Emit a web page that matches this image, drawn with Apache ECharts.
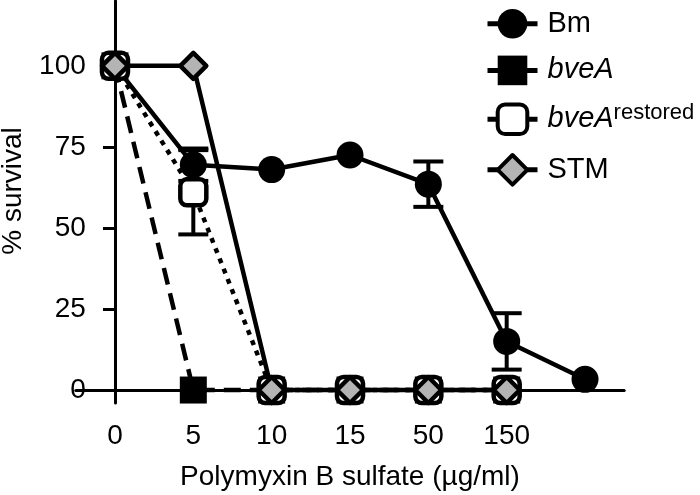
<!DOCTYPE html>
<html>
<head>
<meta charset="utf-8">
<script src="https://cdn.jsdelivr.net/npm/echarts@6/dist/echarts.min.js"></script>
<style>html,body{margin:0;padding:0;background:#fff}#c{width:700px;height:495px}</style>
</head>
<body>
<div id="c"></div>
<script>
// ---- data ----
var xLabels = ['0', '5', '10', '15', '50', '150'];
var yTicks = [0, 25, 50, 75, 100];
var bm = [100, 69.5, 68, 72.5, 63.5, 15, 3.3];
var bmErr = [null, 5, null, null, 7, 8.7, null];
var bveA = [100, 0, 0, 0, 0, 0];
var bveARestored = [100, 61, 0, 0, 0, 0];
var bveARestoredErr = [null, 13, null, null, null, null];
var stm = [100, 100, 0, 0, 0, 0];

var FONT = "'Liberation Sans', Arial, sans-serif";

function pairs(arr) { return arr.map(function (v, i) { return [i, v]; }); }
function errData(vals, errs) {
  var out = [];
  errs.forEach(function (e, i) { if (e != null) out.push([i, vals[i] - e, vals[i] + e]); });
  return out;
}
var allErr = errData(bm, bmErr).concat(errData(bveARestored, bveARestoredErr));

var chart = echarts.init(document.getElementById('c'), null, { renderer: 'canvas' });
var option = {
  animation: false,
  backgroundColor: '#fff',
  textStyle: { fontFamily: FONT, color: '#000' },
  grid: { left: 75.8, right: 75.8, top: 1, bottom: 92, containLabel: false, outerBoundsMode: 'none' },
  legend: {
    orient: 'vertical', left: 480, top: 4, itemWidth: 50, itemHeight: 37, itemGap: 17,
    selectedMode: false,
    data: [
      { name: 'Bm' },
      { name: 'bveA' },
      { name: 'bveA restored', itemStyle: { borderWidth: 4 } },
      { name: 'STM', itemStyle: { borderWidth: 4 } }
    ],
    lineStyle: { type: 'solid', width: 5, color: '#000' },
    textStyle: {
      fontFamily: FONT, fontSize: 29, color: '#000', padding: [0, 0, 0, 5],
      rich: {
        i: { fontStyle: 'italic', fontSize: 29, fontFamily: FONT, color: '#000', lineHeight: 34 },
        s: { fontSize: 22, fontFamily: FONT, color: '#000', verticalAlign: 'top', lineHeight: 22 }
      }
    },
    formatter: function (n) {
      if (n === 'bveA') return '{i|bveA}';
      if (n === 'bveA restored') return '{i|bveA}{s|restored}';
      return n;
    }
  },
  xAxis: {
    type: 'value', min: -0.5, max: 6.5,
    name: 'Polymyxin B sulfate (µg/ml)', nameLocation: 'middle', nameGap: 60,
    nameTextStyle: { fontFamily: FONT, fontSize: 28, color: '#000' },
    axisLine: { onZero: true, lineStyle: { color: '#000', width: 3 } },
    axisTick: { show: false },
    splitLine: { show: false },
    axisLabel: {
      customValues: xLabels.map(function (l, i) { return i; }),
      formatter: function (v) { return xLabels[Math.round(v)] || ''; },
      fontFamily: FONT, fontSize: 28, color: '#000', margin: 19
    }
  },
  yAxis: {
    type: 'value', min: -4, max: 120,
    axisLine: { onZero: true, lineStyle: { color: '#000', width: 3 } },
    axisTick: { customValues: yTicks, length: 12, lineStyle: { color: '#000', width: 3 } },
    splitLine: { show: false },
    axisLabel: { customValues: yTicks, fontFamily: FONT, fontSize: 28, color: '#000', margin: -10 }
  },
  graphic: [{
    type: 'text', x: 13, y: 191, rotation: Math.PI / 2,
    style: { text: '% survival', fontFamily: FONT, fontSize: 28, fill: '#000', align: 'center', verticalAlign: 'middle' }
  }],
  series: [
    {
      type: 'custom', name: 'err', z: 1, silent: true,
      data: allErr,
      renderItem: function (params, api) {
        var x = api.value(0), lo = api.value(1), hi = api.value(2);
        var pl = api.coord([x, lo]), ph = api.coord([x, hi]);
        var hw = 15, st = { stroke: '#000', lineWidth: 4 };
        return { type: 'group', children: [
          { type: 'line', shape: { x1: pl[0], y1: pl[1], x2: ph[0], y2: ph[1] }, style: st },
          { type: 'line', shape: { x1: ph[0] - hw, y1: ph[1], x2: ph[0] + hw, y2: ph[1] }, style: st },
          { type: 'line', shape: { x1: pl[0] - hw, y1: pl[1], x2: pl[0] + hw, y2: pl[1] }, style: st }
        ] };
      }
    },
    {
      type: 'line', name: 'Bm', z: 2, data: pairs(bm),
      symbol: 'circle', symbolSize: 27,
      lineStyle: { color: '#000', width: 4.5 },
      itemStyle: { color: '#000', borderColor: '#000', borderWidth: 0 }
    },
    {
      type: 'line', name: 'bveA', z: 3, data: pairs(bveA),
      symbol: 'rect', symbolSize: 27,
      lineStyle: { color: '#000', width: 4.5, type: [17, 9] },
      itemStyle: { color: '#000', borderColor: '#000', borderWidth: 0 }
    },
    {
      type: 'line', name: 'bveA restored', z: 4, data: pairs(bveARestored),
      symbol: 'roundRect', symbolSize: 26,
      lineStyle: { color: '#000', width: 4.5, type: [5, 6] },
      itemStyle: { color: '#fff', borderColor: '#000', borderWidth: 4.5 }
    },
    {
      type: 'line', name: 'STM', z: 5, data: pairs(stm),
      symbol: 'diamond', symbolSize: 26,
      lineStyle: { color: '#000', width: 4.5 },
      itemStyle: { color: '#b4b4b4', borderColor: '#000', borderWidth: 4.5, borderJoin: 'round' }
    }
  ]
};
chart.setOption(option);
</script>
</body>
</html>
